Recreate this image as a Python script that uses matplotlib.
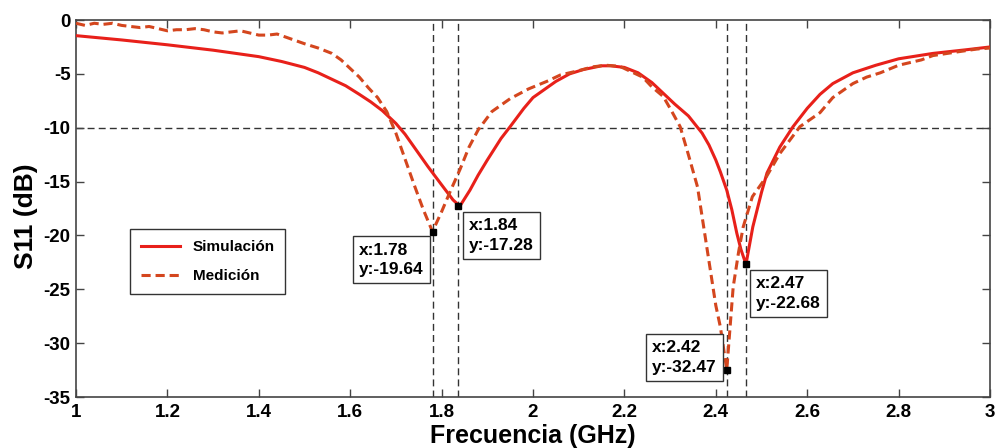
import numpy as np
import matplotlib.pyplot as plt

plt.rcParams['font.family'] = ['Liberation Sans', 'DejaVu Sans']
plt.rcParams['font.weight'] = 'bold'
plt.rcParams['axes.unicode_minus'] = False

# Simulated S11 (GHz, dB)
sim_f = [1.0, 1.1, 1.2, 1.3, 1.4, 1.45, 1.5, 1.53, 1.56, 1.59, 1.62, 1.645,
         1.67, 1.70, 1.72, 1.74, 1.77, 1.80, 1.825, 1.84, 1.862, 1.88, 1.90,
         1.93, 1.95, 1.98, 2.0, 2.02, 2.05, 2.08, 2.11, 2.15, 2.17, 2.2, 2.23,
         2.26, 2.29, 2.31, 2.34, 2.355, 2.37, 2.385, 2.40, 2.41, 2.424, 2.435,
         2.446, 2.455, 2.466, 2.481, 2.50, 2.512, 2.54, 2.569, 2.60, 2.628,
         2.656, 2.70, 2.75, 2.80, 2.875, 2.95, 3.0]
sim_s11 = [-1.45, -1.85, -2.3, -2.8, -3.4, -3.85, -4.4, -4.9, -5.5, -6.1, -6.9,
           -7.6, -8.4, -9.6, -10.6, -11.8, -13.6, -15.3, -16.7, -17.28, -15.8,
           -14.4, -13.0, -11.0, -9.9, -8.2, -7.2, -6.6, -5.7, -5.0, -4.6, -4.25,
           -4.25, -4.4, -4.9, -5.8, -7.0, -7.8, -8.9, -9.7, -10.5, -11.6, -13.0,
           -14.1, -15.8, -17.6, -19.8, -21.3, -22.68, -19.2, -16.0, -14.2,
           -11.8, -9.9, -8.2, -6.9, -5.9, -4.9, -4.2, -3.6, -3.1, -2.75, -2.5]

# Measured S11 (GHz, dB)
meas_f = [1.0, 1.02, 1.04, 1.06, 1.08, 1.10, 1.12, 1.14, 1.16, 1.18, 1.20,
          1.22, 1.24, 1.26, 1.28, 1.30, 1.32, 1.34, 1.36, 1.38, 1.40, 1.42,
          1.44, 1.46, 1.48, 1.50, 1.53, 1.56, 1.58, 1.60, 1.62, 1.64, 1.66,
          1.68, 1.70, 1.72, 1.74, 1.76, 1.78, 1.80, 1.82, 1.84, 1.86, 1.88,
          1.91, 1.95, 1.99, 2.03, 2.06, 2.10, 2.13, 2.16, 2.19, 2.21, 2.24,
          2.26, 2.285, 2.30, 2.322, 2.34, 2.36, 2.38, 2.40, 2.41, 2.424,
          2.438, 2.45, 2.46, 2.48, 2.51, 2.54, 2.584, 2.628, 2.656, 2.70,
          2.73, 2.76, 2.80, 2.85, 2.875, 2.93, 2.97, 3.0]
meas_s11 = [-0.3, -0.5, -0.3, -0.4, -0.3, -0.5, -0.6, -0.7, -0.6, -0.8, -1.0,
            -0.9, -0.9, -0.8, -0.9, -1.1, -1.2, -1.1, -1.0, -1.2, -1.4, -1.4,
            -1.3, -1.6, -1.9, -2.2, -2.6, -3.1, -3.7, -4.5, -5.3, -6.3, -7.2,
            -8.5, -10.5, -12.9, -15.3, -17.6, -19.64, -17.8, -15.8, -13.9,
            -11.8, -10.2, -8.5, -7.3, -6.4, -5.7, -5.1, -4.7, -4.35, -4.2,
            -4.3, -4.7, -5.3, -6.2, -7.1, -8.2, -9.9, -12.5, -15.5, -21.0,
            -26.5, -28.5, -32.47, -24.8, -21.5, -19.2, -16.4, -14.6, -12.4,
            -9.9, -8.6, -7.2, -5.9, -5.3, -4.9, -4.2, -3.7, -3.3, -2.95, -2.7,
            -2.6]

# data tips: x, y, label, offset in pixels, alignment
tip_x = [1.781, 1.836, 2.424, 2.466]
tip_y = [-19.64, -17.28, -32.47, -22.68]
tip_text = ["x:1.78\ny:-19.64", "x:1.84\ny:-17.28",
            "x:2.42\ny:-32.47", "x:2.47\ny:-22.68"]
tip_off = [(-9, -11), (11, -12), (-10, -5), (10, -12)]
tip_align = [('right', 'top'), ('left', 'top'), ('right', 'bottom'), ('left', 'top')]

fig = plt.figure(figsize=(9.97, 4.48), dpi=100)
ax = fig.add_axes([0.0762, 0.1138, 0.9168, 0.8415])

ax.axhline(-10, color='#333333', lw=1, dashes=(5, 3), zorder=1)
for xv in tip_x:
    ax.axvline(xv, color='#333333', lw=1, dashes=(5, 3), zorder=1)

ax.plot(sim_f, sim_s11, color='#e8201a', lw=2.2, label='Simulación', zorder=3)
ax.plot(meas_f, meas_s11, color='#d4461e', lw=2.2, dashes=(3, 1.6),
        label='Medición', zorder=4)

ax.plot(tip_x, tip_y, 's', color='black', ms=5, zorder=5)
for x, y, s, off, (ha, va) in zip(tip_x, tip_y, tip_text, tip_off, tip_align):
    ax.annotate(s, (x, y), xytext=off, textcoords='offset pixels',
                ha=ha, va=va, multialignment='left', fontsize=12.5,
                fontweight='bold', linespacing=1.4,
                bbox=dict(boxstyle='square,pad=0.35', fc='white', ec='#333333', lw=1),
                zorder=6)

ax.set_xlim(1, 3)
ax.set_ylim(-35, 0)
ax.set_xticks(np.arange(1, 3.01, 0.2))
ax.set_xticklabels(['1', '1.2', '1.4', '1.6', '1.8', '2', '2.2', '2.4', '2.6', '2.8', '3'])
ax.set_yticks(np.arange(-35, 1, 5))
ax.tick_params(direction='in', top=True, right=True, length=6, width=1,
               labelsize=13.5, color='#444444')
ax.tick_params(axis='x', pad=5)
ax.tick_params(axis='y', pad=4)
for lab in ax.get_xticklabels() + ax.get_yticklabels():
    lab.set_fontweight('bold')
for sp in ax.spines.values():
    sp.set_color('#444444')
    sp.set_linewidth(1.2)

ax.set_xlabel('Frecuencia (GHz)', fontsize=18, fontweight='bold', labelpad=2)
ax.set_ylabel('S11 (dB)', fontsize=19, fontweight='bold')
ax.yaxis.set_label_coords(-0.042, 0.48)

leg = ax.legend(loc='lower left', bbox_to_anchor=(0.059, 0.273), borderaxespad=0,
                fontsize=11, handlelength=2.6, handletextpad=0.8, labelspacing=1.0,
                borderpad=0.7, fancybox=False, framealpha=1)
leg.get_frame().set_edgecolor('#333333')
leg.get_frame().set_linewidth(1)
for t in leg.get_texts():
    t.set_fontweight('bold')

fig.savefig('out.png', dpi=100)
